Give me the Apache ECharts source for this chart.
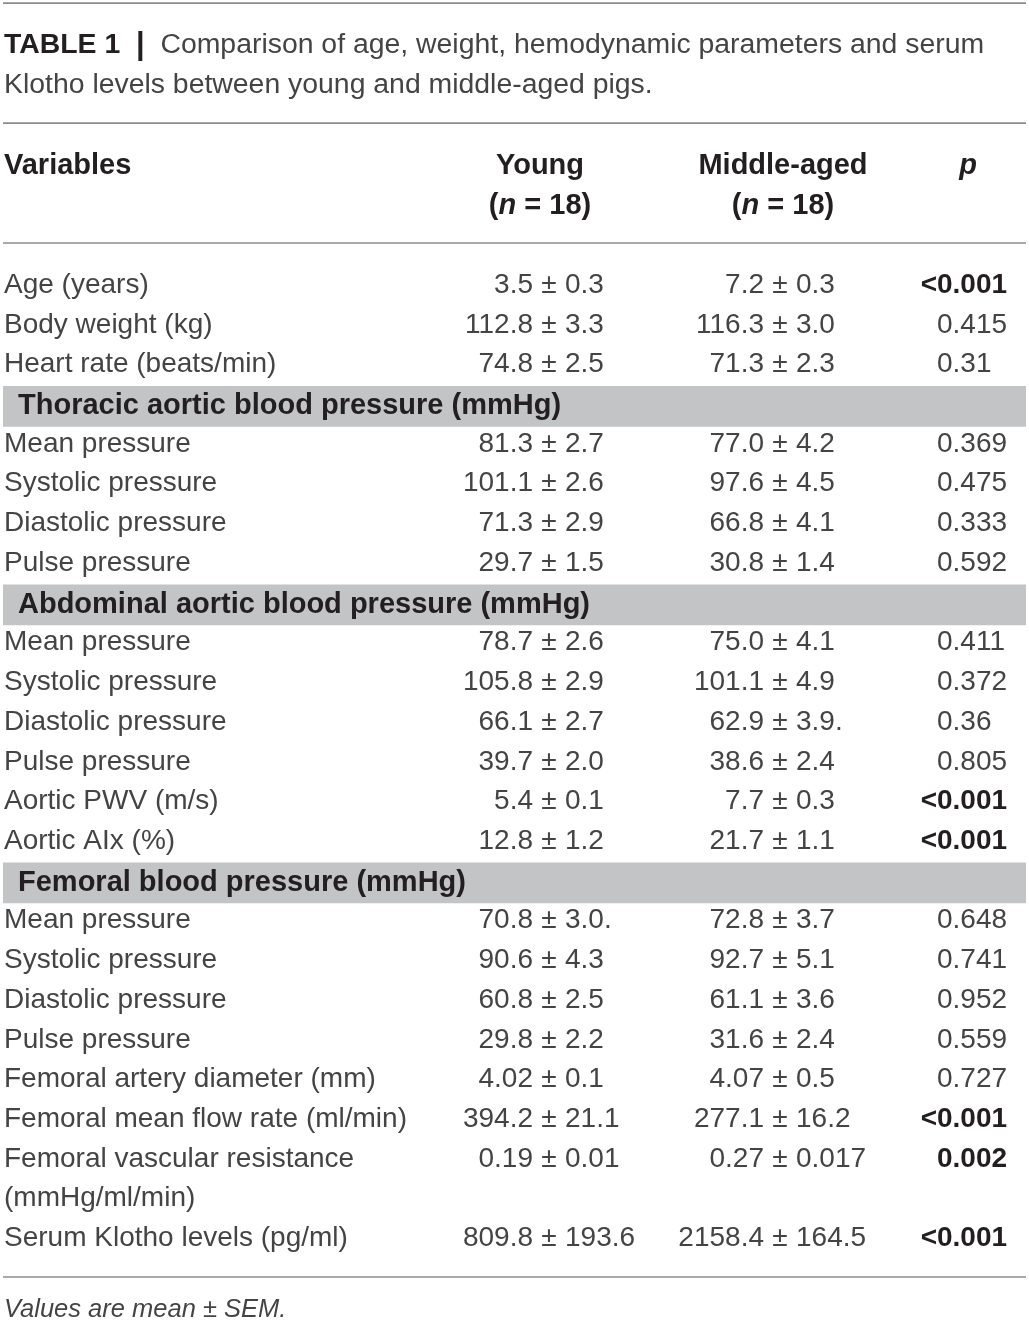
<!DOCTYPE html>
<html lang="en">

<head>
    <meta charset="UTF-8">
    <title>Table 1</title>
    <script src="https://cdn.jsdelivr.net/npm/echarts@6/dist/echarts.min.js"></script>
    <style>
        * {
            padding: 0;
            margin: 0;
        }

        html,
        body {
            width: 1029px;
            height: 1322px;
            background: #fff;
        }

        #table {
            width: 1029px;
            height: 1322px;
        }
    </style>
</head>

<body>
    <div id="table"></div>
</body>

</html>
<script>
    // caption / header text
    let tableLabel = 'TABLE 1';
    let captionLines = [
        'Comparison of age, weight, hemodynamic parameters and serum',
        'Klotho levels between young and middle-aged pigs.'
    ];
    let headers = ['Variables', 'Young', 'Middle-aged', 'p'];
    let groupN = [18, 18];
    let footnote = 'Values are mean ± SEM.';

    // table body, one entry per printed line
    let variables = [
        'Age (years)', 'Body weight (kg)', 'Heart rate (beats/min)',
        'Thoracic aortic blood pressure (mmHg)',
        'Mean pressure', 'Systolic pressure', 'Diastolic pressure', 'Pulse pressure',
        'Abdominal aortic blood pressure (mmHg)',
        'Mean pressure', 'Systolic pressure', 'Diastolic pressure', 'Pulse pressure',
        'Aortic PWV (m/s)', 'Aortic AIx (%)',
        'Femoral blood pressure (mmHg)',
        'Mean pressure', 'Systolic pressure', 'Diastolic pressure', 'Pulse pressure',
        'Femoral artery diameter (mm)', 'Femoral mean flow rate (ml/min)',
        'Femoral vascular resistance', '(mmHg/ml/min)',
        'Serum Klotho levels (pg/ml)'
    ];
    let sections = [
        'Thoracic aortic blood pressure (mmHg)',
        'Abdominal aortic blood pressure (mmHg)',
        'Femoral blood pressure (mmHg)'
    ];
    let young = [
        '3.5 ± 0.3', '112.8 ± 3.3', '74.8 ± 2.5', '',
        '81.3 ± 2.7', '101.1 ± 2.6', '71.3 ± 2.9', '29.7 ± 1.5', '',
        '78.7 ± 2.6', '105.8 ± 2.9', '66.1 ± 2.7', '39.7 ± 2.0',
        '5.4 ± 0.1', '12.8 ± 1.2', '',
        '70.8 ± 3.0.', '90.6 ± 4.3', '60.8 ± 2.5', '29.8 ± 2.2',
        '4.02 ± 0.1', '394.2 ± 21.1', '0.19 ± 0.01', '', '809.8 ± 193.6'
    ];
    let middle = [
        '7.2 ± 0.3', '116.3 ± 3.0', '71.3 ± 2.3', '',
        '77.0 ± 4.2', '97.6 ± 4.5', '66.8 ± 4.1', '30.8 ± 1.4', '',
        '75.0 ± 4.1', '101.1 ± 4.9', '62.9 ± 3.9.', '38.6 ± 2.4',
        '7.7 ± 0.3', '21.7 ± 1.1', '',
        '72.8 ± 3.7', '92.7 ± 5.1', '61.1 ± 3.6', '31.6 ± 2.4',
        '4.07 ± 0.5', '277.1 ± 16.2', '0.27 ± 0.017', '', '2158.4 ± 164.5'
    ];
    let pValues = [
        '<0.001', '0.415', '0.31', '',
        '0.369', '0.475', '0.333', '0.592', '',
        '0.411', '0.372', '0.36', '0.805',
        '<0.001', '<0.001', '',
        '0.648', '0.741', '0.952', '0.559',
        '0.727', '<0.001', '0.002', '', '<0.001'
    ];

    // layout (pixels / row units)
    const W = 1029, H = 1322;
    const ROW0_Y = 166, ROW_H = 39.72;
    const FIRST_DATA_ROW = 3;
    const RULES = [-4.1, -1.08, 1.94, 27.97];
    const COL = {
        label: 4, section: 18, young: 549, middle: 780, p: 937,
        youngHead: 540, middleHead: 783, pHead: 968, left: 3, right: 1026
    };
    const PM_GAP = 16;
    const SECTION_SHIFT = 2;

    const FAMILY = "'Liberation Sans', Arial, sans-serif";
    const TXT = '#444';
    const DARK = '#231f20';
    const BAND = '#c3c4c6';
    const RULE = '#8c8c8c';
    const regular = '28px ' + FAMILY;
    const bold = 'bold 28px ' + FAMILY;
    const boldHead = 'bold 29px ' + FAMILY;

    function txt(x, y, s, font, color, align) {
        return {
            type: 'text',
            style: {
                x: x, y: y, text: s, font: font, fill: color,
                textAlign: align || 'left', textVerticalAlign: 'middle'
            }
        };
    }

    // "a ± b" lined up on the ± sign
    function pmCell(cx, y, s) {
        let parts = s.split(' ± ');
        if (parts.length < 2) return [txt(cx, y, s, regular, TXT, 'center')];
        return [
            txt(cx - PM_GAP, y, parts[0], regular, TXT, 'right'),
            txt(cx, y, '±', regular, TXT, 'center'),
            txt(cx + PM_GAP, y, parts[1], regular, TXT, 'left')
        ];
    }

    function pCell(x, y, s) {
        let sig = s.charAt(0) === '<' || parseFloat(s) < 0.05;
        let font = sig ? bold : regular;
        let color = sig ? DARK : TXT;
        if (s.charAt(0) === '<') {
            return [txt(x, y, '<', font, color, 'right'), txt(x, y, s.slice(1), font, color, 'left')];
        }
        return [txt(x, y, s, font, color, 'left')];
    }

    function renderHeader(params, api) {
        let row = api.value(1);
        let y = api.coord([0, row])[1];
        let X = function (v) { return api.coord([v, row])[0]; };
        let children = [];
        if (row === 0) {
            children.push(txt(X(COL.label), y, headers[0], boldHead, DARK, 'left'));
            children.push(txt(X(COL.youngHead), y, headers[1], boldHead, DARK, 'center'));
            children.push(txt(X(COL.middleHead), y, headers[2], boldHead, DARK, 'center'));
            children.push(txt(X(COL.pHead), y, headers[3], 'italic ' + boldHead, DARK, 'center'));
        } else {
            [COL.youngHead, COL.middleHead].forEach(function (cx, k) {
                children.push({
                    type: 'text',
                    style: {
                        x: X(cx), y: y, text: '({i|n} = ' + groupN[k] + ')',
                        font: boldHead, fill: DARK, textAlign: 'center', textVerticalAlign: 'middle',
                        rich: {
                            i: { fontStyle: 'italic', fontWeight: 'bold', fontSize: 29, fontFamily: FAMILY, color: DARK }
                        }
                    }
                });
            });
        }
        return { type: 'group', children: children };
    }

    function renderRow(params, api) {
        let i = api.value(2);
        let row = api.value(1);
        let y = api.coord([0, row])[1];
        let h = api.size([0, 1])[1];
        let X = function (v) { return api.coord([v, row])[0]; };
        let children = [];
        if (sections.indexOf(variables[i]) >= 0) {
            let yy = y + SECTION_SHIFT;
            children.push({
                type: 'rect',
                shape: { x: X(COL.left), y: yy - h / 2 - 0.5, width: X(COL.right) - X(COL.left), height: h + 1 },
                style: { fill: BAND }
            });
            children.push(txt(X(COL.section), yy, variables[i], boldHead, DARK, 'left'));
            return { type: 'group', children: children };
        }
        children.push(txt(X(COL.label), y, variables[i], regular, TXT, 'left'));
        if (young[i]) children = children.concat(pmCell(X(COL.young), y, young[i]));
        if (middle[i]) children = children.concat(pmCell(X(COL.middle), y, middle[i]));
        if (pValues[i]) children = children.concat(pCell(X(COL.p), y, pValues[i]));
        return { type: 'group', children: children };
    }

    function renderRule(params, api) {
        let row = api.value(1);
        let a = api.coord([COL.left, row]);
        let b = api.coord([COL.right, row]);
        return {
            type: 'line',
            shape: { x1: a[0], y1: a[1], x2: b[0], y2: b[1] },
            style: { stroke: RULE, lineWidth: 1.6 }
        };
    }

    var myChart = echarts.init(document.getElementById('table'));
    option = {
        animation: false,
        backgroundColor: '#fff',
        title: [
            {
                left: 4,
                top: 25,
                padding: 0,
                text: '{b|' + tableLabel + '}  {bar||}  {r|' + captionLines[0] + '}\n{r|' + captionLines[1] + '}',
                textStyle: {
                    fontFamily: FAMILY,
                    fontSize: 28.4,
                    fontWeight: 'normal',
                    color: TXT,
                    lineHeight: 40,
                    rich: {
                        b: { fontFamily: FAMILY, fontSize: 28.4, fontWeight: 'bold', color: DARK, lineHeight: 40 },
                        bar: { fontFamily: FAMILY, fontSize: 31, fontWeight: 'bold', color: DARK, lineHeight: 40 },
                        r: { fontFamily: FAMILY, fontSize: 28.4, fontWeight: 'normal', color: TXT, lineHeight: 40 }
                    }
                }
            },
            {
                left: 4,
                top: 1295,
                padding: 0,
                text: footnote,
                textStyle: {
                    fontFamily: FAMILY,
                    fontSize: 25.5,
                    fontStyle: 'italic',
                    fontWeight: 'normal',
                    color: TXT,
                    lineHeight: 30
                }
            }
        ],
        grid: { left: 0, right: 0, top: 0, bottom: 0 },
        xAxis: { type: 'value', min: 0, max: W, show: false },
        yAxis: {
            type: 'value',
            inverse: true,
            min: -ROW0_Y / ROW_H,
            max: (H - ROW0_Y) / ROW_H,
            show: false
        },
        series: [
            {
                type: 'custom',
                silent: true,
                renderItem: renderRule,
                data: RULES.map(function (r) { return [0, r]; })
            },
            {
                type: 'custom',
                silent: true,
                renderItem: renderHeader,
                data: [[0, 0], [0, 1]]
            },
            {
                type: 'custom',
                silent: true,
                renderItem: renderRow,
                data: variables.map(function (v, i) { return [0, i + FIRST_DATA_ROW, i]; })
            }
        ]
    };
    myChart.setOption(option);
</script>
